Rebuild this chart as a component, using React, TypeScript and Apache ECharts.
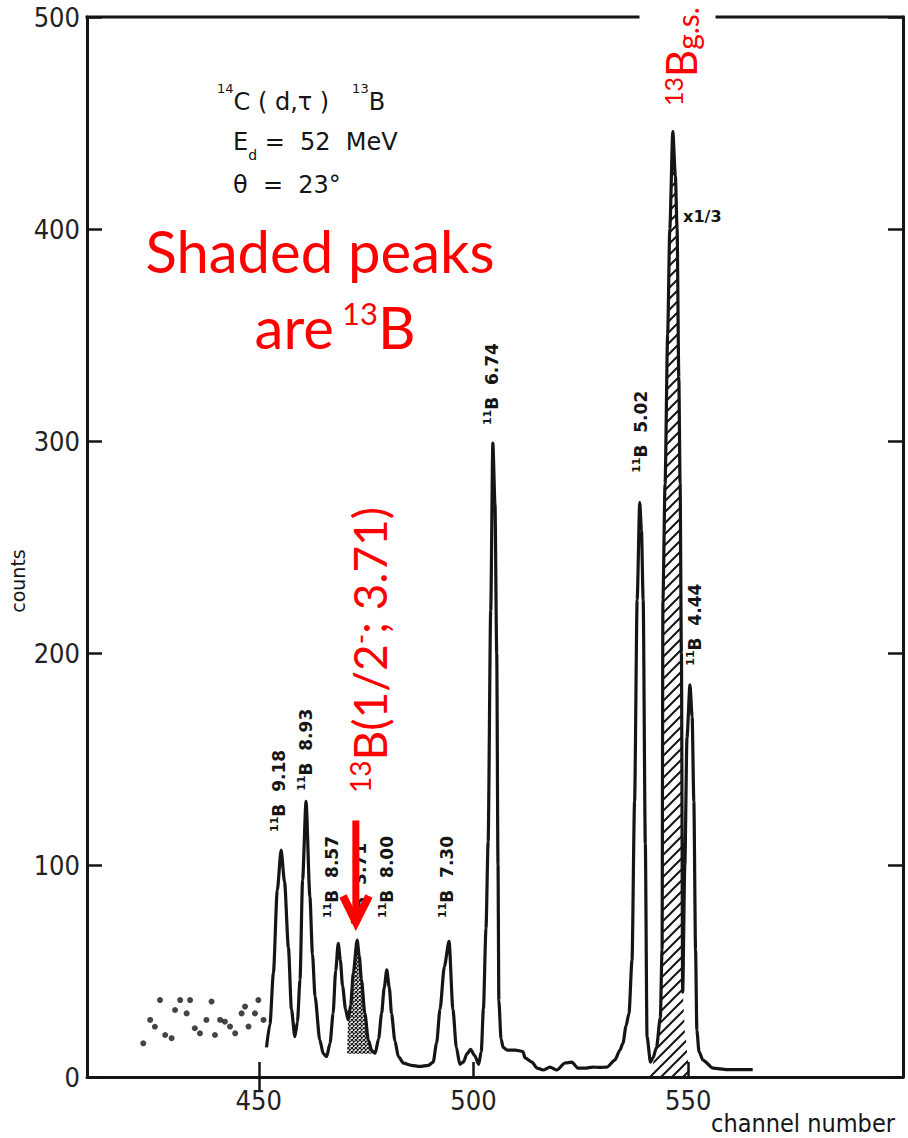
import React, { useEffect, useRef } from "react";
import * as echarts from "echarts";

// Measured spectrum trace (channel, counts); the 13B ground-state peak is drawn at x1/3
const traceChannels = [
  451.8, 452.6, 453.4, 454.3, 455.2, 456.0, 456.9, 457.6, 458.4, 459.0,
  459.6, 460.2, 461.0, 461.9, 462.5, 463.1, 464.2, 465.0, 465.8, 466.6,
  467.3, 467.9, 468.5, 469.0, 469.5, 470.2, 470.8, 471.4, 472.0, 472.9,
  473.4, 473.9, 474.7, 475.5, 476.3, 477.1, 477.9, 478.6, 479.2, 479.8,
  480.4, 480.9, 481.7, 482.5, 483.7, 485.5, 487.5, 489.5, 490.6, 491.4,
  492.2, 493.2, 494.3, 495.2, 496.0, 496.8, 497.6, 498.5, 499.3, 500.3,
  501.2, 501.8, 502.3, 502.9, 503.4, 504.0, 504.5, 505.0, 505.4, 505.7,
  505.9, 506.4, 506.9, 507.8, 509.7, 511.5, 512.0, 513.6, 514.8, 516.2,
  517.8, 519.4, 521.3, 522.9, 524.3, 525.9, 527.8, 529.4, 531.1, 532.9,
  534.1, 534.8, 535.5, 536.2, 536.9, 537.5, 538.1, 538.7, 539.1, 539.5,
  540.0, 540.4, 541.2, 541.8, 542.6, 543.5, 543.9, 544.1, 544.6, 545.2,
  545.7, 546.4, 547.0, 547.4, 547.8, 548.1, 548.4, 548.7, 549.2, 549.7,
  550.4, 550.9, 551.3, 551.7, 552.0, 552.5, 553.4, 555.8, 559.0, 562.0,
  565.0,
];
const traceCounts = [
  14, 25, 49, 88, 107, 92, 61, 32, 19, 26,
  46, 93, 130, 85, 58, 38, 17.5, 11, 9.6, 16,
  30, 50, 63, 55, 43, 32, 27, 34, 49, 64.6,
  57, 46, 30, 17.5, 12.5, 11.2, 18, 30, 42, 50.5,
  42, 30, 17, 9.6, 6.5, 5.5, 5, 5.5, 7, 16,
  32, 52, 64, 32, 14, 6, 7, 11, 13, 10,
  6, 12, 32, 70, 111, 220, 299, 270, 200, 100,
  36, 18, 14, 12.7, 12.7, 12, 9, 7, 4.2, 3.3,
  4.7, 3.3, 6.6, 7, 4.2, 4.2, 4.7, 4.5, 4.7, 8,
  12.7, 16, 24, 30, 55, 130, 225, 271, 258, 225,
  110, 19, 7, 9, 14, 28, 60, 225, 280, 350,
  400, 446, 425, 400, 330, 280, 200, 40, 100, 160,
  185, 170, 130, 60, 22, 12, 8, 4.2, 3.5, 3.5,
  3.5,
];

// Low-channel points plotted without a connecting line
const dotChannels = [
  423.1, 424.7, 425.8, 427.0, 428.2, 429.7, 430.5, 431.7, 433.2, 434.0,
  435.1, 436.3, 437.8, 439.0, 439.8, 441.0, 442.1, 443.3, 444.5, 446.0,
  446.8, 447.6, 449.1, 449.9, 451.1,
];
const dotCounts = [
  15.9, 26.9, 23.7, 36.3, 19.8, 18.3, 31.6, 36.3, 30.0, 36.3,
  23.0, 20.6, 26.9, 35.6, 19.8, 26.9, 26.1, 23.8, 20.6, 30.0,
  33.2, 23.8, 30.0, 36.3, 26.9,
];

// 13B (1/2-; 3.71 MeV) peak above its background level
const shade371Channels = [470.6, 470.8, 471.4, 472.0, 472.9, 473.4, 473.9, 474.7, 475.5, 476.3, 476.6];
const shade371Counts = [11, 27, 34, 49, 64.6, 57, 46, 30, 17.5, 12.5, 11];
const shade371Background = 11;

// 13B ground-state peak (x1/3)
const gsChannels = [
  541.0, 541.6, 542.6, 543.5, 543.9, 544.1, 544.6, 545.2, 545.7, 546.4,
  547.0, 547.4, 547.8, 548.1, 548.4, 548.7, 549.3, 550.0, 550.5,
];
const gsCounts = [
  0, 5, 13, 26, 60, 225, 280, 350, 400, 446,
  425, 400, 330, 280, 200, 40, 20, 7, 0,
];

// Axis ticks
const xTickValues = [450, 500, 550];
const topTickValues = [450];

// Peak identifications: anchor (channel, counts), nucleus mass, excitation energy
const peakLabelChannels = [454.7, 461.0, 467.0, 473.6, 479.85, 493.8, 504.3, 539.0, 551.6];
const peakLabelCounts = [115.6, 135, 75, 71.7, 75, 75, 307.5, 285, 194];
const peakLabelMass = ["11", "11", "11", "13", "11", "11", "11", "11", "11"];
const peakLabelEnergy = ["9.18", "8.93", "8.57", "3.71", "8.00", "7.30", "6.74", "5.02", "4.44"];

const blackFont = "'DejaVu Sans', 'Liberation Sans', sans-serif";
const condensedFont = "'DejaVu Sans Condensed', 'Liberation Sans Narrow', 'DejaVu Sans', sans-serif";
const redFont = "Lato, 'Open Sans', 'Noto Sans', sans-serif";
const ink = "#151515";
const red = "#ff0000";

function hatch(size: number, cross: boolean, width: number) {
  const cv = document.createElement("canvas");
  cv.width = size;
  cv.height = size;
  const g = cv.getContext("2d")!;
  g.strokeStyle = ink;
  g.lineWidth = width;
  g.beginPath();
  for (const o of [-size, 0, size]) {
    g.moveTo(o - 1, size + 1);
    g.lineTo(o + size + 1, -1);
  }
  if (cross) {
    for (const o of [-size, 0, size]) {
      g.moveTo(o - 1, -1);
      g.lineTo(o + size + 1, size + 1);
    }
  }
  g.stroke();
  return { image: cv.toDataURL(), repeat: "repeat", imageWidth: size, imageHeight: size };
}

const zip = (a: number[], b: number[]) => a.map((v, i) => [v, b[i]]);

export default function App() {
  const ref = useRef<HTMLDivElement>(null);

  useEffect(() => {
    document.body.style.margin = "0";
    document.body.style.overflow = "hidden";
    const chart = echarts.init(ref.current!, null, { renderer: "svg" });

    const axisLineStyle = { color: ink, width: 3 };
    const tickStyle = { color: ink, width: 2.5 };

    chart.setOption({
      animation: false,
      backgroundColor: "#ffffff",
      grid: { left: 87, right: 5, top: 17, bottom: 61 },
      xAxis: [
        {
          type: "value",
          min: 410,
          max: 600,
          position: "bottom",
          axisLine: { show: true, lineStyle: axisLineStyle },
          axisTick: { show: true, inside: true, length: 15, lineStyle: tickStyle, customValues: xTickValues },
          axisLabel: {
            customValues: xTickValues,
            fontFamily: condensedFont,
            fontSize: 27,
            color: "#222",
            margin: 10,
          },
          splitLine: { show: false },
        },
        {
          // top frame line is drawn in two pieces below, leaving room for the g.s. label
          type: "value",
          min: 410,
          max: 600,
          position: "top",
          axisLine: { show: false },
          axisTick: { show: true, inside: true, length: 15, lineStyle: tickStyle, customValues: topTickValues },
          axisLabel: { show: false },
          splitLine: { show: false },
        },
      ],
      yAxis: [
        {
          type: "value",
          min: 0,
          max: 500,
          interval: 100,
          position: "left",
          axisLine: { show: true, lineStyle: axisLineStyle },
          axisTick: { show: true, inside: true, length: 15, lineStyle: tickStyle },
          axisLabel: { fontFamily: condensedFont, fontSize: 27, color: "#222", margin: 7, padding: [6, 0, 0, 0] },
          splitLine: { show: false },
        },
        {
          type: "value",
          min: 0,
          max: 500,
          interval: 100,
          position: "right",
          axisLine: { show: true, lineStyle: axisLineStyle },
          axisTick: { show: true, inside: true, length: 15, lineStyle: tickStyle },
          axisLabel: { show: false },
          splitLine: { show: false },
        },
      ],
      series: [
        {
          name: "13B g.s.",
          type: "line",
          data: zip(gsChannels, gsCounts),
          showSymbol: false,
          smooth: 0.25,
          smoothMonotone: "x",
          lineStyle: { width: 0 },
          areaStyle: { color: hatch(11, false, 2), opacity: 1 },
          z: 2,
        },
        {
          name: "13B 3.71",
          type: "line",
          data: zip(shade371Channels, shade371Counts),
          showSymbol: false,
          smooth: 0.25,
          smoothMonotone: "x",
          lineStyle: { width: 0 },
          areaStyle: { color: hatch(4, true, 1.2), opacity: 1, origin: shade371Background },
          z: 2,
        },
        {
          name: "spectrum",
          type: "line",
          data: zip(traceChannels, traceCounts),
          showSymbol: false,
          smooth: 0.25,
          smoothMonotone: "x",
          lineStyle: { color: ink, width: 3.2 },
          z: 3,
        },
        {
          name: "points",
          type: "scatter",
          data: zip(dotChannels, dotCounts),
          symbol: "circle",
          symbolSize: 6,
          itemStyle: { color: ink },
          z: 3,
        },
      ],
    });

    const px = (ch: number, c: number) =>
      chart.convertToPixel({ gridIndex: 0 }, [ch, c]) as number[];

    // top frame, interrupted where the g.s. label sits
    const frameL = px(410, 500);
    const gapL = px(538.3, 500);
    const gapR = px(556.7, 500);
    const frameR = px(600, 500);
    const topFrame = [
      [frameL, gapL],
      [gapR, frameR],
    ].map(([a, b]) => ({
      type: "line",
      z: 5,
      shape: { x1: a[0], y1: a[1], x2: b[0], y2: b[1] },
      style: { stroke: ink, lineWidth: 3, lineCap: "square" },
    }));

    const peakLabels = peakLabelChannels.map((ch, i) => {
      const [x, y] = px(ch, peakLabelCounts[i]);
      return {
        type: "text",
        x,
        y,
        rotation: Math.PI / 2,
        z: 40,
        style: {
          text: `{s|${peakLabelMass[i]}}{m|B}{m|  ${peakLabelEnergy[i]}}`,
          align: "left",
          verticalAlign: "middle",
          rich: {
            s: { fontSize: 11, fontFamily: blackFont, fontWeight: "bold", fill: ink, verticalAlign: "top", lineHeight: 10 },
            m: { fontSize: 17, fontFamily: blackFont, fontWeight: "bold", fill: ink, lineHeight: 20 },
          },
        },
      };
    });

    const [nx, ny] = px(548.8, 405.7);
    const scaleNote = {
      type: "text",
      x: nx,
      y: ny,
      z: 40,
      style: { text: "x1/3", fontSize: 16, fontFamily: blackFont, fontWeight: "bold", fill: ink, align: "left", verticalAlign: "middle" },
    };

    // Red arrow pointing at the 3.71 MeV peak
    const shaftTop = px(472.6, 121);
    const shaftEnd = px(472.6, 77);
    const headL = px(469.6, 85.4);
    const headTip = px(472.6, 73.1);
    const headR = px(475.66, 85.4);
    const arrow = [
      {
        type: "polyline",
        z: 60,
        shape: { points: [shaftTop, shaftEnd] },
        style: { stroke: red, lineWidth: 7, fill: null },
      },
      {
        type: "polyline",
        z: 60,
        shape: { points: [headL, headTip, headR] },
        style: { stroke: red, lineWidth: 8, fill: null, lineJoin: "miter", miterLimit: 10 },
      },
    ];

    const bigRich = (size: number, supSize: number, subSize: number) => ({
      m: { fontSize: size, fontFamily: redFont, fill: red, lineHeight: size },
      s: { fontSize: supSize, fontFamily: redFont, fill: red, lineHeight: supSize * 0.9, verticalAlign: "top" },
      p: { fontSize: supSize, fontFamily: redFont, fill: red, lineHeight: supSize * 0.9, verticalAlign: "top", padding: [0, 0, 0, 8] },
      d: { fontSize: subSize, fontFamily: redFont, fill: red, lineHeight: subSize * 0.5, verticalAlign: "bottom" },
    });

    const reactionRich = {
      m: { fontSize: 24, fontFamily: blackFont, fill: ink, lineHeight: 40 },
      s: { fontSize: 13, fontFamily: blackFont, fill: ink, lineHeight: 10, verticalAlign: "top" },
      d: { fontSize: 14, fontFamily: blackFont, fill: ink, lineHeight: 19, verticalAlign: "bottom" },
    };

    chart.setOption({
      graphic: [
        ...topFrame,
        // reaction and kinematics
        { type: "text", x: 217, y: 82, z: 40, style: { text: "{s|14}{m|C ( d,τ )   }{s|13}{m|B}", rich: reactionRich, align: "left", verticalAlign: "top" } },
        { type: "text", x: 233, y: 122, z: 40, style: { text: "{m|E}{d|d}{m| =  52  MeV}", rich: reactionRich, align: "left", verticalAlign: "top" } },
        { type: "text", x: 233, y: 165, z: 40, style: { text: "{m|θ  =  23°}", rich: reactionRich, align: "left", verticalAlign: "top" } },
        // note
        { type: "text", x: 320, y: 250, z: 40, style: { text: "Shaded peaks", fontSize: 58, fontFamily: redFont, fill: red, align: "center", verticalAlign: "middle" } },
        { type: "text", x: 335, y: 326, z: 40, style: { text: "{m|are}{p|13}{m|B}", rich: bigRich(58, 31, 24), align: "center", verticalAlign: "middle" } },
        // state annotations
        { type: "text", x: 369, y: 793, rotation: Math.PI / 2, z: 40, style: { text: "{s|13}{m|B(1/2}{s|-}{m|; 3.71)}", rich: bigRich(46, 28, 24), align: "left", verticalAlign: "middle" } },
        { type: "text", x: 681, y: 106, rotation: Math.PI / 2, z: 46, style: { text: "{s|13}{m|B}{d|g.s.}", rich: bigRich(42, 25, 30), align: "left", verticalAlign: "middle" } },
        // axis titles
        { type: "text", x: 18, y: 581, rotation: Math.PI / 2, z: 40, style: { text: "counts", fontSize: 19, fontFamily: blackFont, fill: ink, align: "center", verticalAlign: "middle" } },
        { type: "text", x: 803, y: 1123, z: 40, style: { text: "channel number", fontSize: 25, fontFamily: condensedFont, fill: ink, align: "center", verticalAlign: "middle" } },
        ...peakLabels,
        scaleNote,
        ...arrow,
      ],
    });

    return () => chart.dispose();
  }, []);

  return <div ref={ref} style={{ width: 908, height: 1138 }} />;
}
